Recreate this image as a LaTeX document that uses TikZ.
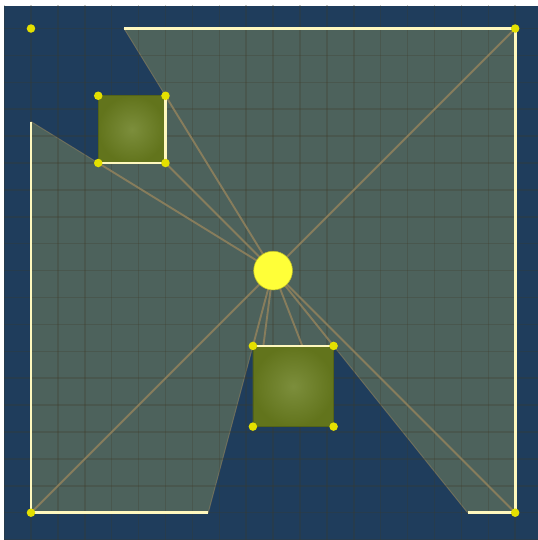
\documentclass[tikz,border=0pt]{standalone}
\definecolor{sea}{RGB}{31,61,92}
\definecolor{litarea}{RGB}{77,98,92}
\definecolor{gridline}{RGB}{62,58,38}
\definecolor{raytan}{RGB}{142,128,92}
\definecolor{wallcream}{RGB}{255,248,190}
\definecolor{dotyellow}{RGB}{228,224,0}
\definecolor{lampyellow}{RGB}{255,255,56}
\definecolor{olivein}{RGB}{124,142,60}
\definecolor{oliveout}{RGB}{98,116,28}
\begin{document}
\begin{tikzpicture}[
x=1cm,
y=-1cm,
wall/.style={wallcream,line width=3pt,line join=miter},
ray/.style={raytan,line width=2pt,opacity=0.9},
vertex/.style={circle,fill=dotyellow,inner sep=0pt,minimum size=9pt},
gridrule/.style={gridline,line width=1.6pt,opacity=0.25},
obstacle/.style={inner color=olivein,outer color=oliveout,draw=oliveout!85!black,line width=0.6pt}
]
\useasboundingbox (-0.152,-0.06) rectangle (19.848,20.015);
\fill[white] (-0.152,-0.06) rectangle (19.848,20.015);
\fill[sea] (0,0.16) rectangle (19.848,20.015);

% light and room corners
\coordinate (L) at (10,10);
\coordinate (r1) at (1,1);
\coordinate (r2) at (19,1);
\coordinate (r3) at (19,19);
\coordinate (r4) at (1,19);

% obstacles
\coordinate (a1) at (3.5,3.5);
\coordinate (a2) at (6,3.5);
\coordinate (a3) at (6,6);
\coordinate (a4) at (3.5,6);
\coordinate (b1) at (9.25,12.8);
\coordinate (b2) at (12.25,12.8);
\coordinate (b3) at (12.25,15.8);
\coordinate (b4) at (9.25,15.8);

% where the rays stop
\coordinate (hTop) at (4.4615,1);
\coordinate (hLeft) at (1,4.4615);
\coordinate (hBotL) at (7.5893,19);
\coordinate (hBotR) at (17.2321,19);
\coordinate (hB4) at (9.6379,12.8);
\coordinate (hB3) at (11.0862,12.8);

% lit area
\filldraw[fill=litarea,draw=raytan,draw opacity=0.6,line width=1pt]
  (hTop) -- (r2) -- (r3) -- (hBotR) -- (b2) -- (b1) -- (hBotL) -- (r4)
  -- (hLeft) -- (a4) -- (a3) -- (a2) -- cycle;

% grid
\begin{scope}
\clip (0,0.16) rectangle (19.848,20.015);
\foreach \k in {0,...,20}
  \draw[gridrule] (\k,-0.5) -- (\k,20.5);
\foreach \k in {0,...,20}
  \draw[gridrule] (-0.5,\k) -- (20.5,\k);
\end{scope}

% rays
\foreach \p in {r2,r3,r4,b1,b2,hB4,hB3,a2,a3,a4}
  \draw[ray] (L) -- (\p);

\fill[obstacle] (a1) rectangle (a3);
\fill[obstacle] (b1) rectangle (b3);
\draw[obstacle,fill=none] (a1) rectangle (a3);
\draw[obstacle,fill=none] (b1) rectangle (b3);

% lit walls
\draw[wall] (hTop) -- (r2) -- (r3) -- (hBotR);
\draw[wall] (hBotL) -- (r4) -- (hLeft);
\draw[wall] (a4) -- (a3) -- (a2);
\draw[wall] (b1) -- (b2);

\foreach \p in {r1,r2,r3,r4,a1,a2,a3,a4,b1,b2,b3,b4}
  \node[vertex] (v-\p) at (\p) {};

\node[circle,fill=lampyellow,draw=lampyellow!75!black,line width=0.6pt,
  minimum size=41pt,inner sep=0pt] (lamp) at (L) {};
\end{tikzpicture}
\end{document}
